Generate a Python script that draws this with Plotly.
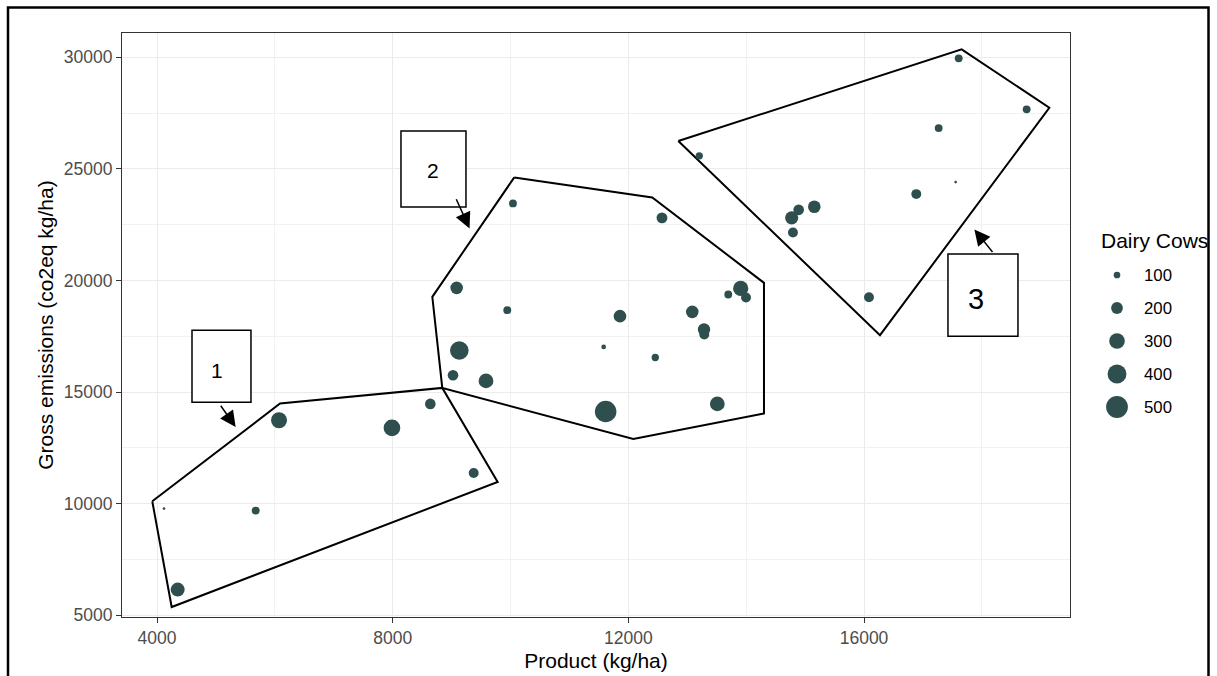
import numpy as np
import plotly.graph_objects as go

# ---------------- data ----------------
# cluster 1
c1_product = [4119, 5675, 6071, 7988, 8639, 9375, 4351]
c1_emissions = [9783, 9693, 13741, 13396, 14472, 11379, 6152]
c1_cows = [45, 120, 310, 330, 175, 160, 255]
# cluster 2
c2_product = [10042, 12571, 9086, 9945, 11858, 13085, 13284, 13289, 13907, 13997,
              13696, 9131, 11581, 12457, 9024, 9584, 11615, 13510]
c2_emissions = [23455, 22810, 19672, 18672, 18403, 18596, 17807, 17583, 19645, 19242,
                19376, 16866, 17027, 16552, 15758, 15503, 14131, 14472]
c2_cows = [120, 180, 220, 120, 220, 220, 215, 160, 290, 160,
           120, 390, 70, 110, 175, 275, 490, 275]
# cluster 3
c3_product = [17607, 18760, 17267, 13204, 17555, 16887, 15156, 14891, 14772, 14794, 16084]
c3_emissions = [29955, 27669, 26831, 25589, 24410, 23872, 23303, 23168, 22810, 22155, 19255]
c3_cows = [120, 120, 120, 110, 45, 160, 220, 175, 235, 160, 160]

# hand-drawn cluster outlines (vertices)
hull1_x = [3920, 6088, 8842, 9782, 4249]
hull1_y = [10110, 14490, 15189, 10975, 5372]
hull2_x = [10064, 12406, 14302, 14302, 12084, 8842, 8673]
hull2_y = [24621, 23724, 19896, 14042, 12903, 15189, 19268]
hull3_x = [12848, 17657, 19145, 16271]
hull3_y = [26248, 30359, 27741, 17551]

# cluster label boxes
labels = ["1", "2", "3"]
box_x0 = [4594, 8141, 17425]
box_x1 = [5595, 9244, 18613]
box_y0 = [14548, 23289, 17507]
box_y1 = [17776, 26696, 21183]
label_x = [5018, 8678, 17902]
label_y = [15983, 24948, 19179]
label_size = [21, 21, 29]
arrow_tail_x = [5064, 9068, 18201]
arrow_tail_y = [14458, 23706, 21214]
arrow_tip_x = [5335, 9305, 17873]
arrow_tip_y = [13441, 22335, 22290]

legend_breaks = [100, 200, 300, 400, 500]

x_ticks = [4000, 8000, 12000, 16000]
y_ticks = [5000, 10000, 15000, 20000, 25000, 30000]

# ---------------- styling ----------------
PT_COLOR = "#2F4F4F"
FONT = "Liberation Sans, Arial, sans-serif"
W, H = 1217, 676
# panel in page pixels
P_L, P_R, P_T, P_B = 122, 1070, 33, 617
ML, MT, MB, MR = P_L, P_T, H - P_B, 0
PW = W - ML - MR
PH = H - MT - MB


def diam(v):
    v = np.asarray(v, dtype=float)
    return -5.5 + 12.2 * np.sqrt(v / 100.0)


def px_x(px):  # page px -> paper x
    return (px - P_L) / PW


def px_y(py):  # page px -> paper y
    return (P_B - py) / PH


fig = go.Figure()

for hx, hy in [(hull1_x, hull1_y), (hull2_x, hull2_y), (hull3_x, hull3_y)]:
    fig.add_trace(go.Scatter(x=hx + hx[:1], y=hy + hy[:1], mode="lines",
                             line=dict(color="black", width=2),
                             showlegend=False, hoverinfo="skip"))

all_x = c1_product + c2_product + c3_product
all_y = c1_emissions + c2_emissions + c3_emissions
all_c = c1_cows + c2_cows + c3_cows
fig.add_trace(go.Scatter(x=all_x, y=all_y, mode="markers",
                         marker=dict(color=PT_COLOR, size=diam(all_c), sizemode="diameter",
                                     line=dict(width=0), opacity=1),
                         text=[f"Dairy Cows: {c}" for c in all_c],
                         showlegend=False))

# size legend drawn on its own small axes (x2 range 0..1 spans page px 1097..1197)
leg_pos = list(range(len(legend_breaks)))[::-1]
fig.add_trace(go.Scatter(x=[0.2] * len(legend_breaks), y=leg_pos, mode="markers",
                         marker=dict(color=PT_COLOR, size=diam(legend_breaks),
                                     line=dict(width=0), opacity=1),
                         xaxis="x2", yaxis="y2", showlegend=False, hoverinfo="skip",
                         cliponaxis=False))

annotations = []
for b, p in zip(legend_breaks, leg_pos):
    annotations.append(dict(x=0.45, y=p, xref="x2", yref="y2", text=str(b), showarrow=False,
                            xanchor="left", yanchor="middle",
                            font=dict(family=FONT, size=16.8, color="#000000")))
annotations.append(dict(x=px_x(1099), y=px_y(240), xref="paper", yref="paper", text="Dairy Cows",
                        showarrow=False, xanchor="left", yanchor="middle",
                        font=dict(family=FONT, size=21, color="#000000")))

shapes = []
for i, lab in enumerate(labels):
    shapes.append(dict(type="rect", xref="x", yref="y", x0=box_x0[i], x1=box_x1[i],
                       y0=box_y0[i], y1=box_y1[i], line=dict(color="black", width=1.5),
                       fillcolor="white", layer="above"))
    annotations.append(dict(x=label_x[i], y=label_y[i], xref="x", yref="y", text=lab,
                            showarrow=False, xanchor="center", yanchor="middle",
                            font=dict(family=FONT, size=label_size[i], color="#000000")))
    annotations.append(dict(x=arrow_tip_x[i], y=arrow_tip_y[i], xref="x", yref="y",
                            ax=arrow_tail_x[i], ay=arrow_tail_y[i], axref="x", ayref="y",
                            text="", showarrow=True, arrowhead=2, arrowsize=2.1,
                            arrowwidth=1.5, arrowcolor="black", standoff=0, startstandoff=0))

# outer frame (bottom edge lies outside the picture)
shapes.append(dict(type="rect", xref="paper", yref="paper", x0=px_x(8), x1=px_x(1208.5),
                   y0=px_y(720), y1=px_y(7.5), line=dict(color="black", width=2.5),
                   fillcolor="rgba(0,0,0,0)", layer="above"))

axis_common = dict(showline=True, linecolor="#333333", linewidth=1.2, mirror=True,
                   ticks="outside", ticklen=5, tickcolor="#333333", tickwidth=1,
                   showgrid=True, gridcolor="#EBEBEB", gridwidth=1.1, zeroline=False,
                   tickfont=dict(family=FONT, size=17.5, color="#4D4D4D"))

fig.update_layout(
    width=W, height=H,
    margin=dict(l=ML, r=MR, t=MT, b=MB, autoexpand=False),
    paper_bgcolor="white", plot_bgcolor="white",
    showlegend=False,
    xaxis=dict(domain=[0, px_x(P_R)], range=[3406, 19496], tickvals=x_ticks,
               ticktext=[str(v) for v in x_ticks],
               minor=dict(tickvals=[6000, 10000, 14000, 18000], showgrid=True,
                          gridcolor="#F1F1F1", gridwidth=0.6, ticks=""),
               title=dict(text="Product (kg/ha)", standoff=6,
                          font=dict(family=FONT, size=21, color="#000000")),
               **axis_common),
    yaxis=dict(range=[4925, 31090], tickvals=y_ticks, ticktext=[str(v) for v in y_ticks],
               minor=dict(tickvals=[7500, 12500, 17500, 22500, 27500], showgrid=True,
                          gridcolor="#F1F1F1", gridwidth=0.6, ticks=""),
               title=dict(text="Gross emissions (co2eq kg/ha)", standoff=4,
                          font=dict(family=FONT, size=21, color="#000000")),
               **axis_common),
    xaxis2=dict(domain=[px_x(1097), px_x(1197)], range=[0, 1], visible=False,
                fixedrange=True, anchor="y2"),
    yaxis2=dict(domain=[px_y(423.5), px_y(258.5)], range=[-0.5, 4.5], visible=False,
                anchor="x2", fixedrange=True),
    shapes=shapes,
    annotations=annotations,
    font=dict(family=FONT),
)

# remove the browser's default 8px body margin so the figure fills the window
fig.write_html("out.html",
               config=dict(displayModeBar=False),
               post_script="document.body.style.margin='0';document.body.style.overflow='hidden';")
